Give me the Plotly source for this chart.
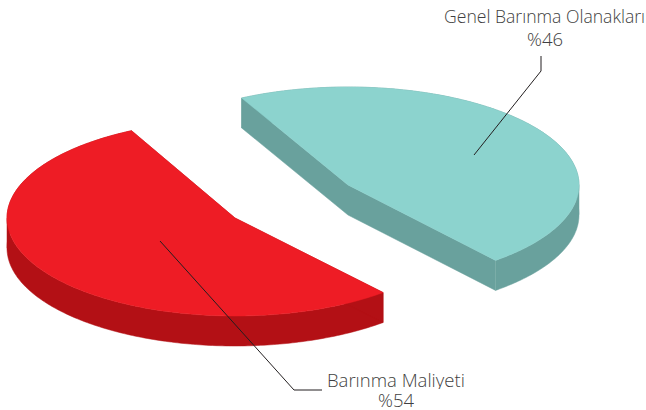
import numpy as np
import plotly.graph_objects as go

labels = ["Barınma Maliyeti", "Genel Barınma Olanakları"]
shares = [54, 46]
top_colors = ["#EE1C25", "#8CD3CE"]
side_colors = ["#B31015", "#69A19D"]
centers = [(235, 218), (348, 185)]
radii_x = [228, 231]
RY, DEPTH = 98, 30
starts = [117.0, 309.7]      # where each slice begins, degrees
sweep_trim = [-0.9, 2.1]     # the drawing's perspective slightly alters each sweep

fig = go.Figure()


def poly(x, y, color):
    fig.add_trace(go.Scatter(x=x, y=y, mode="lines", fill="toself", fillcolor=color,
                             line=dict(color=color, width=0.5, simplify=False), hoverinfo="skip"))


for share, top, side, (cx, cy), rx, a0, trim in zip(shares, top_colors, side_colors, centers,
                                                    radii_x, starts, sweep_trim):
    a1 = a0 + share * 3.6 + trim
    t = np.radians(np.linspace(a0, a1, 240))
    ex = cx + rx * np.cos(t)
    ey = cy - RY * np.sin(t)
    wx = np.r_[cx, ex, cx]
    wy = np.r_[cy, ey, cy]
    # wall: one simple band per stretch of the rim that runs one way across the page
    cuts = sorted({0, int(np.argmin(ex)), int(np.argmax(ex)), len(ex) - 1})
    for i, j in zip(cuts[:-1], cuts[1:]):
        sx, sy = ex[i:j + 1], ey[i:j + 1]
        poly(np.r_[sx, sx[::-1]], np.r_[sy, sy[::-1] + DEPTH], side)
    poly([cx, ex[0], ex[0], cx], [cy, ey[0], ey[0] + DEPTH, cy + DEPTH], side)
    poly([cx, ex[-1], ex[-1], cx], [cy, ey[-1], ey[-1] + DEPTH, cy + DEPTH], side)
    poly(wx, wy, top)

# leader lines
fig.add_trace(go.Scatter(x=[160, 294, 322], y=[241, 390, 390], mode="lines",
                         line=dict(color="#231F20", width=1), hoverinfo="skip"))
fig.add_trace(go.Scatter(x=[474, 541, 541], y=[155, 71, 56], mode="lines",
                         line=dict(color="#231F20", width=1), hoverinfo="skip"))

font = dict(family="Open Sans", size=18.5, color="#3F3F41", weight=300)
font2 = dict(font, size=17.6)
fig.add_annotation(x=396, y=378.5, text=labels[0], showarrow=False, font=font, height=20)
fig.add_annotation(x=396, y=399, text=f"%{shares[0]}", showarrow=False, font=font, height=20)
fig.add_annotation(x=544, y=16, text=labels[1], showarrow=False, font=font2, height=20)
fig.add_annotation(x=544.5, y=38, text=f"%{shares[1]}", showarrow=False, font=font, height=20)

fig.update_layout(width=646, height=410, margin=dict(l=0, r=0, t=0, b=0), showlegend=False,
                  paper_bgcolor="white", plot_bgcolor="white",
                  xaxis=dict(range=[0, 646], visible=False, fixedrange=True),
                  yaxis=dict(range=[410, 0], visible=False, fixedrange=True))
fig.write_html("out.html", config=dict(displayModeBar=False),
               post_script="document.body.style.margin='0';document.documentElement.style.overflow='hidden';")
